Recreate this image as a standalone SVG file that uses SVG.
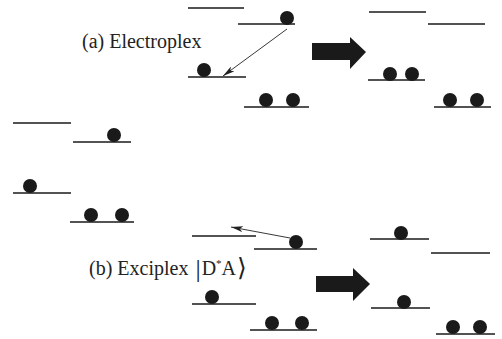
<svg xmlns="http://www.w3.org/2000/svg" width="502" height="339" viewBox="0 0 502 339">
<defs>
<style>
.lv{stroke:#1a1a1a;stroke-width:1.4;fill:none}
.e{fill:#1a1a1a}
.ar{stroke:#222;stroke-width:0.9;fill:none}
.big{fill:#1a1a1a}
</style>
<marker id="ah" viewBox="0 0 12 6" refX="12" refY="3" markerWidth="12" markerHeight="6" markerUnits="userSpaceOnUse" orient="auto">
<path d="M0,0 L12,3 L0,6 L3,3 Z" fill="#222"/>
</marker>
</defs>
<rect width="502" height="339" fill="#fff"/>

<g id="label-a"><text font-family="'Liberation Serif', 'DejaVu Serif', serif" font-size="20" fill="#222" x="82" y="48">(a) Electroplex</text></g>
<g id="label-b"><text font-family="'Liberation Serif', 'DejaVu Serif', serif" font-size="20" fill="#222" x="89" y="275">(b) Exciplex <tspan font-size="26" dx="2" dy="2">|</tspan><tspan dx="1" dy="-2">D</tspan><tspan font-size="11" dy="-8">*</tspan><tspan dy="8">A</tspan><tspan font-family="'DejaVu Serif', serif" font-size="25" dx="1" dy="1">⟩</tspan></text></g>

<g id="a-before">
<line class="lv" x1="188" y1="8" x2="244" y2="8"/>
<line class="lv" x1="238" y1="24" x2="295" y2="24"/>
<circle class="e" cx="287" cy="18" r="7"/>
<line class="lv" x1="188" y1="77" x2="246" y2="77"/>
<circle class="e" cx="204" cy="70" r="7"/>
<line class="lv" x1="244" y1="107" x2="309" y2="107"/>
<circle class="e" cx="266" cy="100" r="7"/>
<circle class="e" cx="293" cy="100" r="7"/>
</g>

<g id="a-after">
<line class="lv" x1="369" y1="12" x2="426" y2="12"/>
<line class="lv" x1="428" y1="24" x2="485" y2="24"/>
<line class="lv" x1="368" y1="80" x2="425" y2="80"/>
<circle class="e" cx="390" cy="74" r="7"/>
<circle class="e" cx="412" cy="74" r="7"/>
<line class="lv" x1="434" y1="107" x2="491" y2="107"/>
<circle class="e" cx="450" cy="100" r="7"/>
<circle class="e" cx="477" cy="100" r="7"/>
</g>

<g id="ground">
<line class="lv" x1="13" y1="123" x2="71" y2="123"/>
<line class="lv" x1="73" y1="142" x2="131" y2="142"/>
<circle class="e" cx="114" cy="135" r="7"/>
<line class="lv" x1="13" y1="193" x2="71" y2="193"/>
<circle class="e" cx="30" cy="186" r="7"/>
<line class="lv" x1="70" y1="222" x2="134" y2="222"/>
<circle class="e" cx="91" cy="215" r="7"/>
<circle class="e" cx="122" cy="215" r="7"/>
</g>

<g id="b-before">
<line class="lv" x1="192" y1="236" x2="256" y2="236"/>
<line class="lv" x1="254" y1="249" x2="317" y2="249"/>
<circle class="e" cx="296" cy="242" r="7"/>
<line class="lv" x1="192" y1="304" x2="256" y2="304"/>
<circle class="e" cx="212" cy="297" r="7"/>
<line class="lv" x1="250" y1="330" x2="317" y2="330"/>
<circle class="e" cx="272" cy="323" r="7"/>
<circle class="e" cx="302" cy="323" r="7"/>
</g>

<g id="b-after">
<line class="lv" x1="370" y1="239" x2="429" y2="239"/>
<circle class="e" cx="401" cy="233" r="7"/>
<line class="lv" x1="431" y1="253" x2="490" y2="253"/>
<line class="lv" x1="371" y1="308" x2="430" y2="308"/>
<circle class="e" cx="404" cy="302" r="7"/>
<line class="lv" x1="436" y1="334" x2="495" y2="334"/>
<circle class="e" cx="453" cy="327" r="7"/>
<circle class="e" cx="480" cy="327" r="7"/>
</g>

<g id="connectors">
<line class="ar" x1="287" y1="29" x2="223" y2="76" marker-end="url(#ah)"/>
<line class="ar" x1="290" y1="238" x2="231" y2="227" marker-end="url(#ah)"/>
<polygon class="big" points="312,43 350,43 350,37 366,52 350,69 350,60 312,60"/>
<polygon class="big" points="316,276 353,276 353,268 370,284 353,301 353,292 316,292"/>
</g>
</svg>
